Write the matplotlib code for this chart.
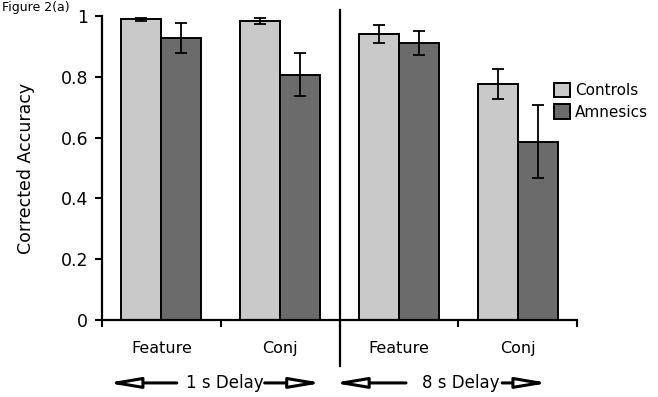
import matplotlib
matplotlib.use("Agg")
import matplotlib.pyplot as plt
import matplotlib.transforms as mtransforms
import numpy as np

categories = ["Feature", "Conj", "Feature", "Conj"]
controls = [0.989, 0.983, 0.942, 0.776]
controls_err = [0.006, 0.010, 0.030, 0.050]
amnesics = [0.927, 0.807, 0.911, 0.587]
amnesics_err = [0.050, 0.070, 0.040, 0.119]
delay_labels = ["1 s Delay", "8 s Delay"]

plt.rcParams["font.family"] = ["DejaVu Sans"]

fig = plt.figure(figsize=(6.58, 3.97), dpi=100)
W, H = 658, 397
ax = fig.add_axes([102 / W, 1 - 320 / H, 475 / W, 304 / H])

x = np.arange(len(categories))
bw = 0.337
err_kw = dict(ecolor="black", elinewidth=1.3, capsize=4, capthick=1.3)
ax.bar(x - bw / 2, controls, bw, yerr=controls_err, color="#c9c9c9",
       edgecolor="black", linewidth=1.4, label="Controls", error_kw=err_kw, zorder=2)
ax.bar(x + bw / 2, amnesics, bw, yerr=amnesics_err, color="#6b6b6b",
       edgecolor="black", linewidth=1.4, label="Amnesics", error_kw=err_kw, zorder=2)

ax.set_xlim(-0.5, 3.5)
ax.set_ylim(0, 1)
ax.set_yticks([0, 0.2, 0.4, 0.6, 0.8, 1.0])
ax.set_yticklabels(["0", "0.2", "0.4", "0.6", "0.8", "1"])
ax.set_xticks(x)
ax.set_xticklabels(categories, fontsize=11.5)
ax.set_xticks([-0.5, 0.5, 1.5, 2.5, 3.5], minor=True)
ax.tick_params(axis="x", which="major", length=0, pad=15)
ax.tick_params(axis="x", which="minor", length=5, width=1.5, direction="out")
ax.tick_params(axis="y", length=5, width=1.5, labelsize=12.5, pad=5)
for s in ["top", "right"]:
    ax.spines[s].set_visible(False)
for s in ["left", "bottom"]:
    ax.spines[s].set_linewidth(1.6)
ax.set_ylabel("Corrected Accuracy", fontsize=12.5, labelpad=18)

# divider between delays
ax.plot([1.5, 1.5], [-0.15, 1.02], color="black", lw=1.6, clip_on=False)

# legend
ax.legend(loc="upper left", bbox_to_anchor=(546 / W, 1 - 75 / H),
          bbox_transform=fig.transFigure, frameon=False, fontsize=11,
          handlelength=1.1, handleheight=1.1, handletextpad=0.3,
          labelspacing=0.4, borderpad=0)

# delay annotations under the axis
trans = mtransforms.blended_transform_factory(ax.transData, ax.transAxes)
ya = -0.207
delay_text_x = [0.53, 2.52]
arrows = [(-0.455, 0.13), (0.87, 1.355), (1.45, 2.06), (2.87, 3.26)]
for lbl, tx in zip(delay_labels, delay_text_x):
    ax.text(tx, ya, lbl, transform=trans, ha="center", va="center",
            fontsize=12, clip_on=False)
for i, (a, b) in enumerate(arrows):
    tip, tail = (a, b) if i % 2 == 0 else (b, a)
    ax.annotate("", xy=(tip, ya), xytext=(tail, ya), xycoords=trans,
                textcoords=trans, annotation_clip=False,
                arrowprops=dict(arrowstyle="-|>,head_length=1.9,head_width=0.32",
                                fc="white", ec="black", lw=2.2, shrinkA=0, shrinkB=0))

fig.text(0.003, 1 - 1 / H, "Figure 2(a)", fontsize=9, va="top", ha="left")

fig.savefig("out.png", dpi=100)
